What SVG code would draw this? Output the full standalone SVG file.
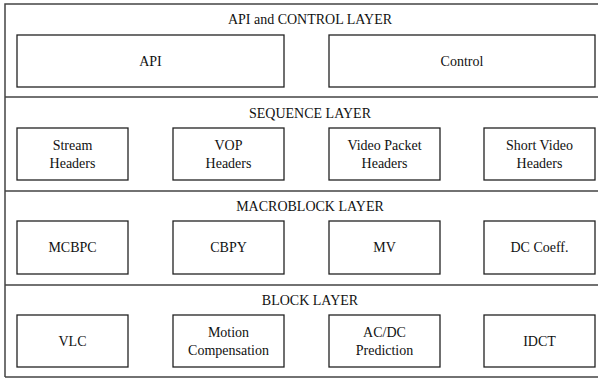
<svg xmlns="http://www.w3.org/2000/svg" width="598" height="378" viewBox="0 0 598 378">
<style>
.layer{fill:none;stroke:#444;stroke-width:1.5}
.box rect{fill:#fff;stroke:#222;stroke-width:1.3}
.t{font-family:'Liberation Serif','DejaVu Serif','Noto Serif',serif;font-size:14px;fill:#111;text-anchor:middle}
</style>
<rect width="598" height="378" fill="#fff"/>
<g id="layers">
<path class="layer" d="M5,377 V4 H600 M5,97 H600 M5,191 H600 M5,285 H600 M5,377 H600"/>
</g>
<g id="titles">
<text class="t" x="310" y="24">API and CONTROL LAYER</text>
<text class="t" x="310" y="118">SEQUENCE LAYER</text>
<text class="t" x="310" y="211">MACROBLOCK LAYER</text>
<text class="t" x="310" y="305">BLOCK LAYER</text>
</g>
<g id="api" class="box"><rect x="17" y="35" width="267" height="52"/><text class="t" x="150.5" y="66">API</text></g>
<g id="control" class="box"><rect x="329" y="35" width="266" height="52"/><text class="t" x="462" y="66">Control</text></g>
<g id="stream" class="box"><rect x="17" y="128" width="111" height="52"/><text class="t" x="72.5" y="150">Stream</text><text class="t" x="72.5" y="168">Headers</text></g>
<g id="vop" class="box"><rect x="173" y="128" width="111" height="52"/><text class="t" x="228.5" y="150">VOP</text><text class="t" x="228.5" y="168">Headers</text></g>
<g id="videopacket" class="box"><rect x="329" y="128" width="111" height="52"/><text class="t" x="384.5" y="150">Video Packet</text><text class="t" x="384.5" y="168">Headers</text></g>
<g id="shortvideo" class="box"><rect x="484" y="128" width="111" height="52"/><text class="t" x="539.5" y="150">Short Video</text><text class="t" x="539.5" y="168">Headers</text></g>
<g id="mcbpc" class="box"><rect x="17" y="221" width="111" height="53"/><text class="t" x="72.5" y="252">MCBPC</text></g>
<g id="cbpy" class="box"><rect x="173" y="221" width="111" height="53"/><text class="t" x="228.5" y="252">CBPY</text></g>
<g id="mv" class="box"><rect x="329" y="221" width="111" height="53"/><text class="t" x="384.5" y="252">MV</text></g>
<g id="dccoeff" class="box"><rect x="484" y="221" width="111" height="53"/><text class="t" x="539.5" y="252">DC Coeff.</text></g>
<g id="vlc" class="box"><rect x="17" y="315" width="111" height="52"/><text class="t" x="72.5" y="346">VLC</text></g>
<g id="motion" class="box"><rect x="173" y="315" width="111" height="52"/><text class="t" x="228.5" y="337">Motion</text><text class="t" x="228.5" y="355">Compensation</text></g>
<g id="acdc" class="box"><rect x="329" y="315" width="111" height="52"/><text class="t" x="384.5" y="337">AC/DC</text><text class="t" x="384.5" y="355">Prediction</text></g>
<g id="idct" class="box"><rect x="484" y="315" width="111" height="52"/><text class="t" x="539.5" y="346">IDCT</text></g>
</svg>
